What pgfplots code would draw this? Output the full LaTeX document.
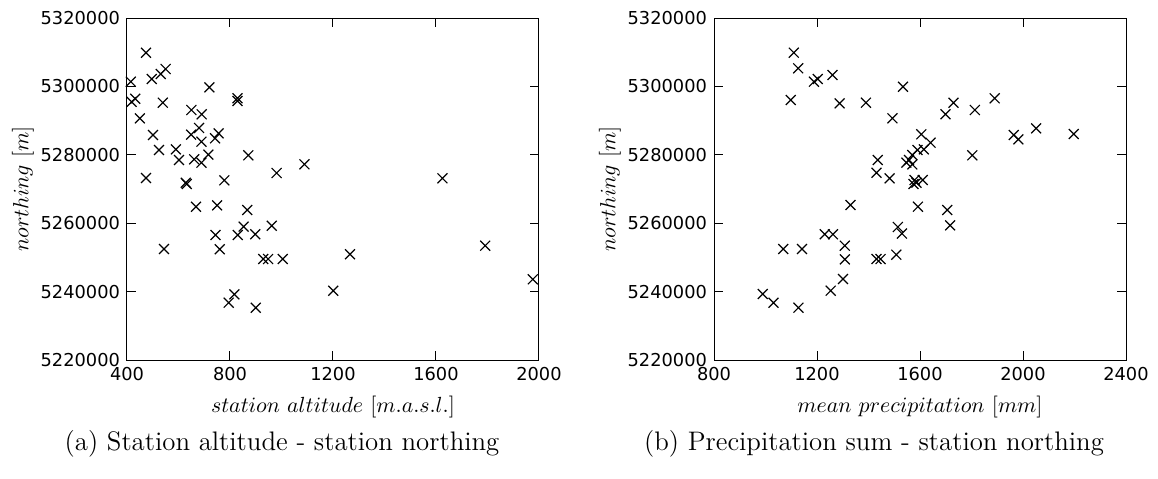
\documentclass[border=0pt]{standalone}
\usepackage{fontspec}
\usepackage{pgfplots}
\pgfplotsset{compat=1.18}
\newfontfamily\tickfont{DejaVu Sans}
\newcommand\tf{\tickfont\fontsize{8.9}{10}\selectfont}
\newcommand\lf{\fontsize{11}{13}\selectfont}

\pgfplotstableread{
x y
474 5309850
415 5301370
496 5302160
531 5303630
550 5305090
418 5295500
432 5296400
539 5295240
720 5299730
829 5296520
829 5295730
650 5293100
690 5291840
450 5290670
680 5287840
501 5285790
649 5285880
756 5286280
742 5284820
689 5283830
524 5281400
590 5281600
602 5278480
661 5278680
689 5277690
716 5280030
871 5279840
981 5274680
474 5273220
628 5271840
632 5271460
778 5272540
1089 5277220
1625 5273130
668 5264830
750 5265230
867 5263860
744 5256550
830 5256550
853 5258990
898 5256750
962 5259270
544 5252460
760 5252370
929 5249530
948 5249530
1005 5249530
817 5239210
795 5236760
900 5235300
1201 5240260
1266 5250900
1791 5253420
1976 5243600
}\altdata

\pgfplotstableread{
x y
1110 5309850
1127 5305290
1188 5301370
1203 5302160
1260 5303330
1098 5296020
1288 5295050
1390 5295240
1534 5299900
1493 5290670
1699 5291840
1730 5295240
1813 5293100
1890 5296520
1964 5285790
1982 5284530
2051 5287750
2197 5286080
1605 5285980
1641 5283540
1615 5281600
1590 5281400
1570 5279940
1557 5278480
1547 5277690
1570 5277200
1803 5279840
1436 5278480
1431 5274770
1482 5273130
1579 5272630
1586 5271840
1611 5272630
1575 5271460
1592 5264830
1706 5263860
1717 5259380
1514 5258890
1530 5256960
1508 5250800
1431 5249530
1447 5249530
1330 5265320
1230 5256750
1262 5256750
1308 5253420
1308 5249420
1069 5252460
1142 5252460
989 5239300
1031 5236760
1128 5235300
1253 5240260
1301 5243680
}\precdata

\pgfplotsset{
  myaxis/.style={
    scale only axis, width=206pt, height=171pt,
    anchor=south west,
    ymin=5220000, ymax=5320000,
    ytick={5220000,5240000,5260000,5280000,5300000,5320000},
    yticklabels={{\tf 5220000},{\tf 5240000},{\tf 5260000},{\tf 5280000},{\tf 5300000},{\tf 5320000}},
    tick align=inside,
    major tick length=4.5pt,
    scaled ticks=false,
    axis line style={line width=0.5pt},
    every tick/.style={black, line width=0.5pt},
    every axis y label/.style={at={(axis description cs:0,0.5)}, xshift=-52pt, anchor=center, rotate=90},
    every axis x label/.style={at={(axis description cs:0.5,0)}, yshift=-23.5pt, anchor=center},
  },
  mymarks/.style={only marks, mark=x, mark size=3.5pt, black, line width=0.6pt},
}

\begin{document}
\begin{tikzpicture}
\useasboundingbox (0,0) rectangle (579pt,239pt);
\begin{axis}[myaxis, at={(63.5pt,59pt)},
  xmin=400, xmax=2000, xtick={400,800,1200,1600,2000},
  xticklabels={{\tf 400},{\tf 800},{\tf 1200},{\tf 1600},{\tf 2000}},
  xlabel={\lf $station\ altitude\ [m.a.s.l.]$},
  ylabel={\lf $northing\ [m]$}]
\addplot[mymarks] table[x=x,y=y] {\altdata};
\end{axis}
\begin{axis}[myaxis, at={(357pt,59pt)},
  xmin=800, xmax=2400, xtick={800,1200,1600,2000,2400},
  xticklabels={{\tf 800},{\tf 1200},{\tf 1600},{\tf 2000},{\tf 2400}},
  xlabel={\lf $mean\ precipitation\ [mm]$},
  ylabel={\lf $northing\ [m]$}]
\addplot[mymarks] table[x=x,y=y] {\precdata};
\end{axis}
\node[font=\fontsize{13.4}{15}\selectfont] at (141pt,17pt) {(a) Station altitude - station northing};
\node[font=\fontsize{13.4}{15}\selectfont] at (437pt,17pt) {(b) Precipitation sum - station northing};
\end{tikzpicture}
\end{document}
